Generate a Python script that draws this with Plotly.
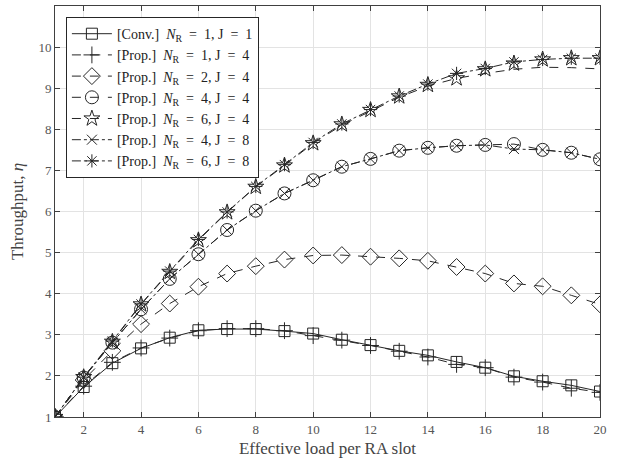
import plotly.graph_objects as go

# Carga efetiva por slot de RA
carga = list(range(1, 21))

# Valores
conv_n1_j1 = [1.0, 1.73, 2.31, 2.67, 2.93, 3.11, 3.14, 3.14, 3.09, 3.03,
              2.88, 2.75, 2.61, 2.50, 2.34, 2.20, 1.99, 1.87, 1.77, 1.62]
prop_n1_j4 = [1.0, 1.75, 2.33, 2.68, 2.92, 3.10, 3.15, 3.15, 3.10, 2.98,
              2.87, 2.74, 2.60, 2.46, 2.28, 2.20, 1.97, 1.85, 1.70, 1.60]
prop_n2_j4 = [1.0, 1.90, 2.61, 3.26, 3.76, 4.17, 4.49, 4.67, 4.83, 4.93,
              4.94, 4.90, 4.86, 4.80, 4.65, 4.49, 4.25, 4.18, 3.96, 3.74]
prop_n4_j4 = [1.0, 1.96, 2.81, 3.62, 4.36, 4.96, 5.55, 6.02, 6.44, 6.76,
              7.09, 7.28, 7.48, 7.55, 7.60, 7.62, 7.64, 7.50, 7.43, 7.27]
prop_n4_j8 = [1.0, 1.96, 2.81, 3.62, 4.36, 4.96, 5.55, 6.02, 6.44, 6.76,
              7.09, 7.28, 7.48, 7.55, 7.60, 7.62, 7.52, 7.50, 7.43, 7.27]
# N_R = 6, J = 4: a linha tracejada fica abaixo dos marcadores no fim
prop_n6_j4_linha = [1.0, 1.97, 2.83, 3.74, 4.53, 5.30, 5.98, 6.60, 7.12, 7.66,
                    8.10, 8.45, 8.78, 9.05, 9.24, 9.36, 9.46, 9.51, 9.50, 9.47]
prop_n6_j4_marc = [1.0, 1.97, 2.83, 3.74, 4.53, 5.30, 5.98, 6.60, 7.12, 7.66,
                   8.12, 8.47, 8.80, 9.08, 9.24, 9.46, 9.60, 9.70, 9.73, 9.73]
prop_n6_j8 = [1.0, 1.97, 2.85, 3.75, 4.55, 5.32, 5.99, 6.61, 7.14, 7.68,
              8.13, 8.48, 8.81, 9.10, 9.36, 9.48, 9.64, 9.70, 9.73, 9.73]

x_ticks = list(range(2, 21, 2))
y_ticks = list(range(1, 12))

NR = "<i>N</i><sub>R</sub>"
EQ = "&nbsp; = &nbsp;"
COR = "#262626"

def rotulo(tipo, n, j):
    return "[" + tipo + ".]&nbsp;&nbsp;" + NR + EQ + n + ", J" + EQ + j

series = [
    (rotulo("Conv", "1", "1"), conv_n1_j1, "solid", "square-open", 11),
    (rotulo("Prop", "1", "4"), prop_n1_j4, "dash", "cross-thin-open", 12),
    (rotulo("Prop", "2", "4"), prop_n2_j4, "dash", "diamond-open", 13),
    (rotulo("Prop", "4", "4"), prop_n4_j4, "dash", "circle-open", 13),
    (rotulo("Prop", "6", "4"), None, "dash", "star-open", 12),
    (rotulo("Prop", "4", "8"), prop_n4_j8, "dashdot", "x-thin-open", 10),
    (rotulo("Prop", "6", "8"), prop_n6_j8, "dashdot", "asterisk-open", 11),
]

fig = go.Figure()

for nome, valores, traco, simbolo, tam in series:
    if valores is None:
        # linha e marcadores separados, mais uma entrada só para a legenda
        fig.add_trace(go.Scatter(x=carga, y=prop_n6_j4_linha, mode='lines',
                                 line=dict(color=COR, width=1, dash=traco),
                                 showlegend=False))
        fig.add_trace(go.Scatter(x=carga, y=prop_n6_j4_marc, mode='markers',
                                 marker=dict(symbol=simbolo, size=tam, color=COR,
                                             line=dict(color=COR, width=1)),
                                 showlegend=False))
        fig.add_trace(go.Scatter(x=[None], y=[None], mode='lines+markers', name=nome,
                                 line=dict(color=COR, width=1, dash=traco),
                                 marker=dict(symbol=simbolo, size=tam, color=COR,
                                             line=dict(color=COR, width=1))))
    else:
        fig.add_trace(go.Scatter(x=carga, y=valores, mode='lines+markers', name=nome,
                                 line=dict(color=COR, width=1, dash=traco),
                                 marker=dict(symbol=simbolo, size=tam, color=COR,
                                             line=dict(color=COR, width=1))))

eixo = dict(showgrid=True, gridcolor='#e3e3e3', gridwidth=1,
            showline=True, linecolor='#404040', linewidth=1, mirror='ticks',
            ticks='inside', ticklen=5, tickcolor='#404040',
            zeroline=False,
            tickfont=dict(family='Liberation Serif', size=13, color='#555555'))

fig.update_layout(
    width=619, height=463,
    margin=dict(l=55, r=19, t=6, b=46),
    paper_bgcolor='white', plot_bgcolor='white',
    font=dict(family='Liberation Serif', color='#222222'),
    xaxis=dict(eixo, range=[1, 20], tickvals=x_ticks,
               title=dict(text='Effective load per RA slot', standoff=6,
                          font=dict(family='Liberation Serif', size=17, color='#444444'))),
    yaxis=dict(eixo, range=[1, 11], tickvals=y_ticks,
               title=dict(text='Throughput, <i>η</i>', standoff=10,
                          font=dict(family='Liberation Serif', size=17, color='#444444'))),
    legend=dict(x=0.02, y=0.973, xanchor='left', yanchor='top',
                bgcolor='white', bordercolor='#262626', borderwidth=1,
                font=dict(family='Liberation Serif', size=14, color='#222222'),
                itemwidth=40, tracegroupgap=0),
)

# tirar a margem padrão do body para o gráfico começar no canto
fig.write_html("out.html", config={'displayModeBar': False},
               post_script="document.body.style.margin='0';")
